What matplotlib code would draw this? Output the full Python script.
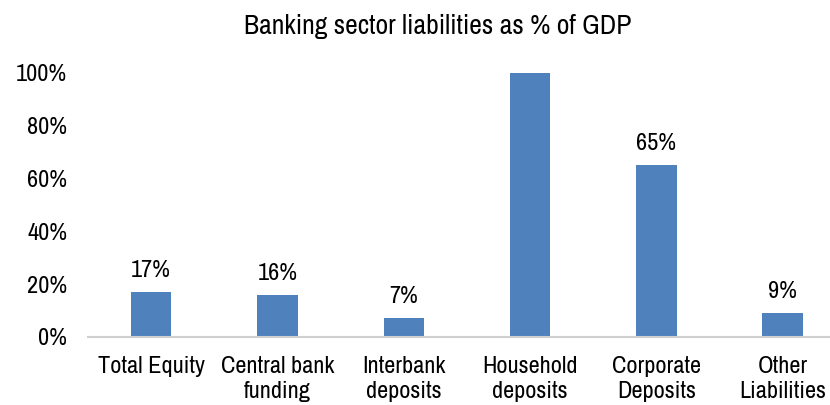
import matplotlib.pyplot as plt

categories = ["Total Equity", "Central bank\nfunding", "Interbank\ndeposits",
              "Household\ndeposits", "Corporate\nDeposits", "Other\nLiabilities"]
values = [17, 16, 7, 100, 65, 9]
labels = ["17%", "16%", "7%", None, "65%", "9%"]
yticks = [0, 20, 40, 60, 80, 100]

plt.rcParams['font.family'] = ["Archivo Narrow", "Liberation Sans", "DejaVu Sans"]

bar_color = '#4F81BD'

fig = plt.figure(figsize=(8.3, 4.05), dpi=100)
ax = fig.add_axes([0.106, 0.168, 0.913, 0.652])

x = list(range(len(categories)))
ax.bar(x, values, width=0.32, color=bar_color, zorder=2)
for xi, v, lab in zip(x, values, labels):
    if lab:
        ax.annotate(lab, (xi, v), xytext=(0, 8), textcoords='offset points',
                    ha='center', va='bottom', fontsize=17.5)

ax.set_xlim(-0.5, len(categories) - 0.5)
ax.set_ylim(0, 100)
ax.set_yticks(yticks)
ax.set_yticklabels([f"{t}%" for t in yticks], fontsize=17.5)
ax.set_xticks(x)
ax.set_xticklabels(categories, fontsize=17.5, linespacing=1.2)
ax.tick_params(axis='both', length=0)
ax.tick_params(axis='x', pad=14)
ax.tick_params(axis='y', pad=15)
for s in ['top', 'right', 'left']:
    ax.spines[s].set_visible(False)
ax.spines['bottom'].set_color('#d0d0d0')
ax.spines['bottom'].set_linewidth(1.5)

fig.text(0.527, 0.935, "Banking sector liabilities as % of GDP", ha='center', va='center', fontsize=20)

fig.savefig('out.png', dpi=100)
